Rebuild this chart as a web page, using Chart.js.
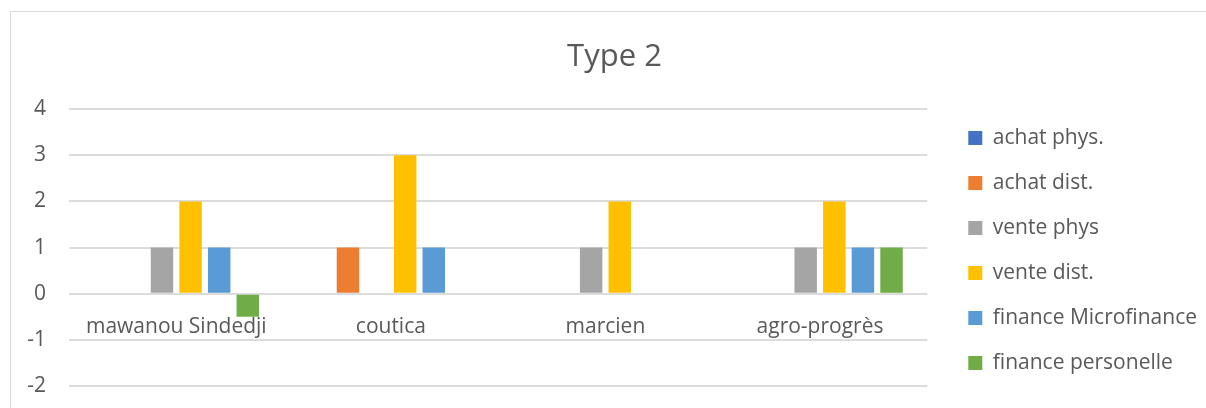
<!DOCTYPE html>
<html>
<head>
<meta charset="utf-8">
<script src="https://cdn.jsdelivr.net/npm/chart.js@4"></script>
<style>
  html, body { margin: 0; padding: 0; background: #fff; }
  #frame {
    position: absolute; left: 10px; top: 11px;
    width: 1300px; height: 500px;
    border-left: 1px solid #d9d9d9; border-top: 1px solid #d9d9d9;
  }
  #wrap { position: absolute; left: 0; top: 0; width: 1206px; height: 408px; }
</style>
</head>
<body>
<div id="frame"></div>
<div id="wrap"><canvas id="chart"></canvas></div>
<script>
// categories and series
const cooperatives = ['mawanou Sindedji', 'coutica', 'marcien', 'agro-progrès'];
const achatPhys = [0, 0, 0, 0];
const achatDist = [0, 1, 0, 0];
const ventePhys = [1, 0, 1, 1];
const venteDist = [2, 3, 2, 2];
const financeMicro = [1, 1, 0, 1];
const financePerso = [-0.5, 0, 0, 1];

const textColor = '#595959';
const gridColor = '#dcdcdc';
const fontFamily = '"Open Sans", "Liberation Sans", sans-serif';

// keep the legend in a single column, put it beside the plot,
// and nudge the title a bit right
const boxNudge = {
  id: 'boxNudge',
  beforeLayout(chart) {
    const lg = chart.legend;
    if (lg && !lg._oneColumn) {
      const fit = lg.fit;
      lg.fit = function () {
        this.maxHeight = Math.max(this.maxHeight, 400);
        fit.call(this);
      };
      lg._oneColumn = true;
    }
  },
  afterLayout(chart) {
    const lg = chart.legend;
    const area = chart.chartArea;
    if (lg) {
      lg.left += 17;
      lg.right += 17;
      // centred on the plot, tall enough for all six rows
      lg.top = area.top - 7;
      lg.bottom = area.bottom + 13;
      lg.height = lg.bottom - lg.top;
    }
    const t = chart.titleBlock;
    if (t) {
      t.left += 6;
      t.right += 6;
    }
  }
};

function series(label, data, color) {
  return { label, data, backgroundColor: color, borderWidth: 0,
           categoryPercentage: 0.8, barPercentage: 0.785 };
}

new Chart(document.getElementById('chart'), {
  type: 'bar',
  data: {
    labels: cooperatives,
    datasets: [
      series('achat phys.', achatPhys, '#4472c4'),
      series('achat dist.', achatDist, '#ed7d31'),
      series('vente phys', ventePhys, '#a5a5a5'),
      series('vente dist.', venteDist, '#ffc000'),
      series('finance Microfinance', financeMicro, '#5b9bd5'),
      series('finance personelle', financePerso, '#70ad47')
    ]
  },
  options: {
    responsive: true,
    maintainAspectRatio: false,
    animation: false,
    layout: { padding: { left: 27, right: 16, top: 0, bottom: 22 } },
    plugins: {
      title: {
        display: true,
        text: 'Type 2',
        color: textColor,
        font: { family: fontFamily, size: 31, weight: 'normal' },
        padding: { top: 39, bottom: 33 }
      },
      legend: {
        position: 'right',
        labels: {
          color: textColor,
          font: { family: fontFamily, size: 21 },
          boxWidth: 14,
          boxHeight: 14,
          padding: 24
        }
      },
      tooltip: { enabled: false }
    },
    scales: {
      x: {
        position: { y: 0 },
        grid: { display: false, drawTicks: false },
        border: { display: false },
        ticks: { color: textColor, font: { family: fontFamily, size: 21 }, padding: 21 },
        afterFit(scale) {
          scale.paddingLeft = 0;
          scale.paddingRight = 0;
        }
      },
      y: {
        min: -2,
        max: 4,
        grid: { color: gridColor, lineWidth: 2, drawTicks: false },
        border: { display: false },
        ticks: { stepSize: 1, color: textColor, font: { family: fontFamily, size: 21 }, padding: 23 },
        afterFit(scale) {
          scale.width = 42;
          scale.paddingTop = 13;
          scale.paddingBottom = 13;
        }
      }
    }
  },
  plugins: [boxNudge]
});
</script>
</body>
</html>
